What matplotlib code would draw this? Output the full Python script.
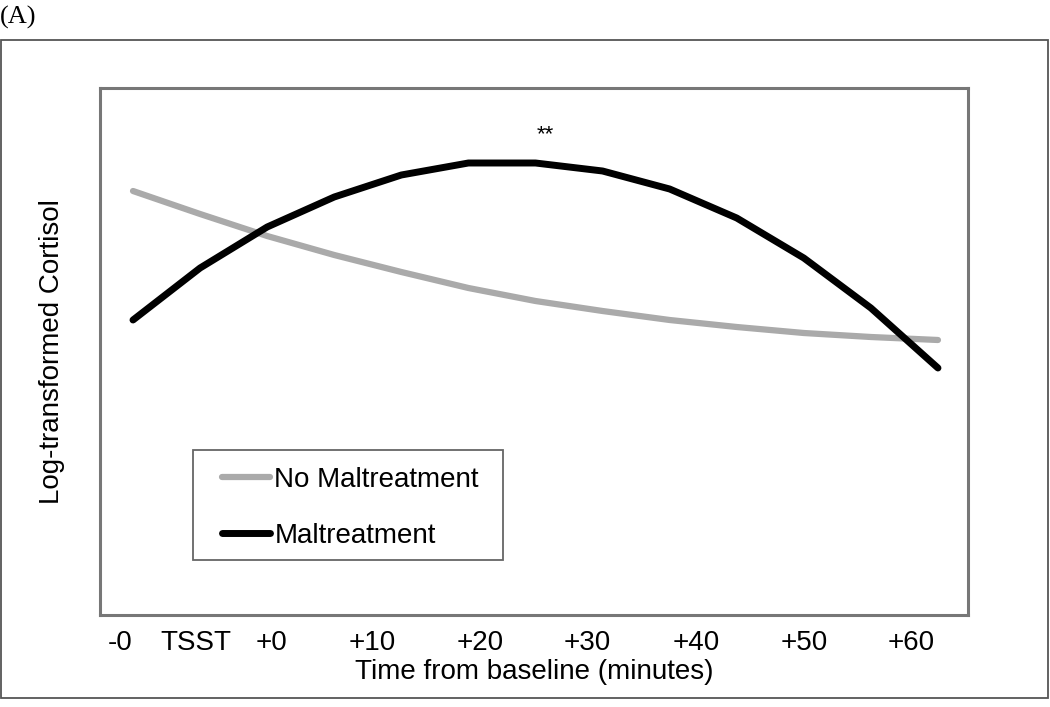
import matplotlib
matplotlib.use("Agg")
import matplotlib.pyplot as plt
from matplotlib.patches import Rectangle

# ---- data (arbitrary log-cortisol units) ----
idx = list(range(13))
maltreatment = [2.95, 3.47, 3.88, 4.18, 4.40, 4.52, 4.52, 4.44, 4.26, 3.97, 3.57, 3.07, 2.47]
no_maltreatment = [4.24, 4.01, 3.79, 3.60, 3.43, 3.27, 3.14, 3.04, 2.95, 2.88, 2.82, 2.78, 2.75]
tick_labels = ["-0", "TSST", "+0", "+10", "+20", "+30", "+40", "+50", "+60"]
tick_pos = [-0.19, 0.94, 2.07, 3.56, 5.17, 6.77, 8.39, 10.0, 11.6]

plt.rcParams['font.family'] = ['Liberation Sans', 'DejaVu Sans']

W, H = 1050, 707
fig = plt.figure(figsize=(W / 100, H / 100), dpi=100)

# outer frame
fig.patches.append(Rectangle((1 / W, 1 - 698 / H), 1047 / W, (698 - 40) / H,
                             transform=fig.transFigure, fill=False,
                             edgecolor='#555555', linewidth=1.3))
fig.text(0 / W, 1 - 17 / H, "(A)", family='Liberation Serif', fontsize=19,
         va='center', ha='left')

ax = fig.add_axes([100 / W, 1 - 615 / H, 868 / W, (615 - 88) / H])
ax.plot(idx, no_maltreatment, color='#aaaaaa', lw=4.5, solid_capstyle='round',
        label='No Maltreatment')
ax.plot(idx, maltreatment, color='black', lw=5, solid_capstyle='round',
        label='Maltreatment')
ax.set_xlim((100 - 133) / 67.08, (968 - 133) / 67.08)
ax.set_ylim(0, 5.27)
ax.set_xticks(tick_pos)
ax.set_xticklabels(tick_labels, fontsize=20)
ax.tick_params(axis='x', length=0, pad=11)
ax.set_yticks([])
for s in ax.spines.values():
    s.set_color('#777777')
    s.set_linewidth(2.2)
ax.set_xlabel("Time from baseline (minutes)", fontsize=20, labelpad=2)
ax.set_ylabel("Log-transformed Cortisol", fontsize=20, labelpad=25)

ax.text(6.14, 4.80, "**", fontsize=16, ha='center', va='center')

# legend box
ax.add_patch(Rectangle(((193 - 100) / 868, (615 - 560) / 527), 310 / 868, 110 / 527,
                       transform=ax.transAxes, fill=False, edgecolor='#666666',
                       linewidth=1.3, zorder=3))
ax.legend(loc='upper left', bbox_to_anchor=((232 - 100) / 868 - 0.012, (615 - 467) / 527),
          frameon=False, fontsize=20, handlelength=1.75, handletextpad=0.15,
          labelspacing=1.07, borderpad=0, borderaxespad=0)

fig.savefig("out.png", dpi=100)
